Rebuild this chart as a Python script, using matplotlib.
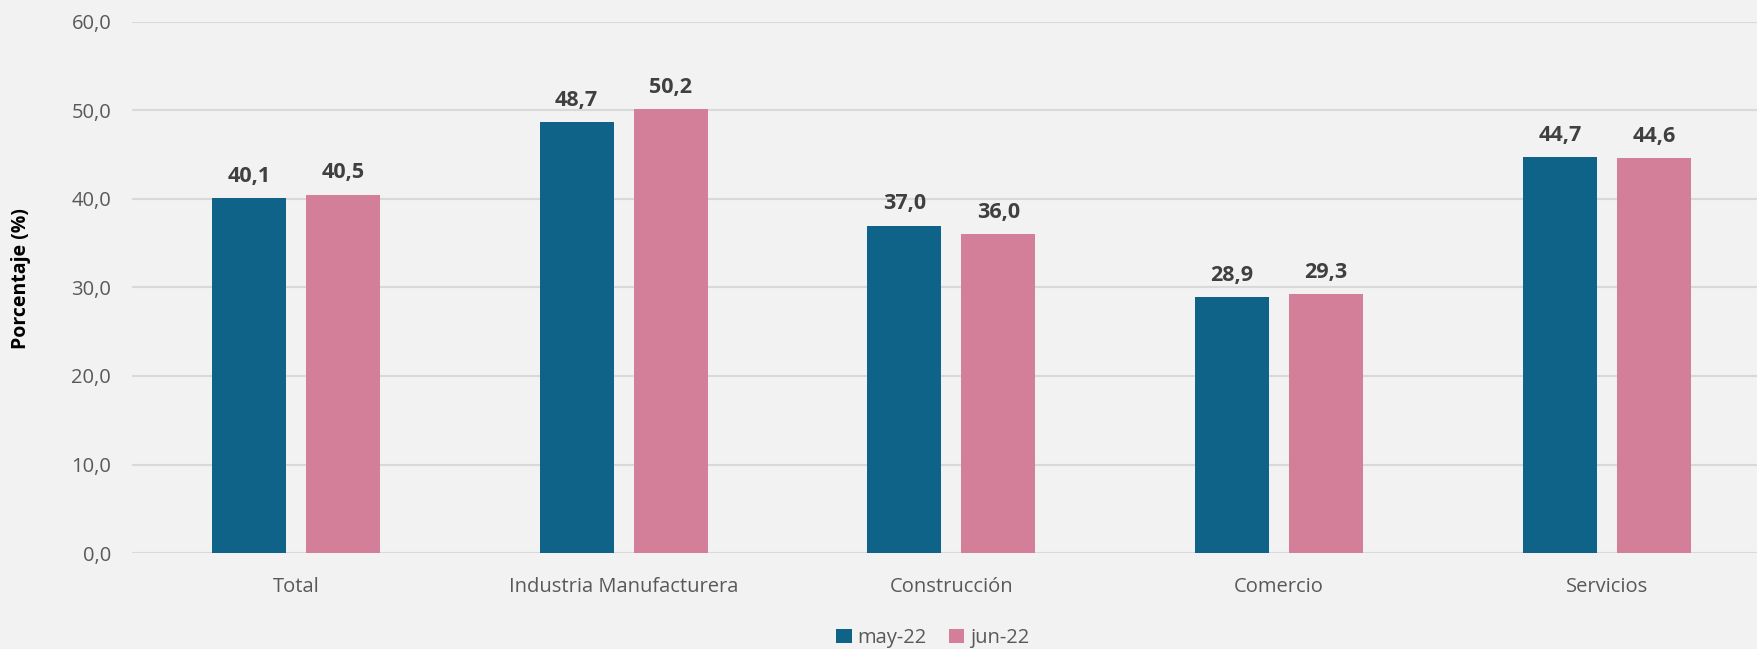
import matplotlib
matplotlib.use("Agg")
import matplotlib.pyplot as plt
import numpy as np

categories = ["Total", "Industria Manufacturera", "Construcción", "Comercio", "Servicios"]
may22 = [40.1, 48.7, 37.0, 28.9, 44.7]
jun22 = [40.5, 50.2, 36.0, 29.3, 44.6]
series_names = ["may-22", "jun-22"]
yticks = [0, 10, 20, 30, 40, 50, 60]

plt.rcParams['font.family'] = ['Open Sans', 'DejaVu Sans']

bg = "#F2F2F2"
c_blue = "#0F6389"
c_pink = "#D37F99"

fig = plt.figure(figsize=(17.57, 6.49), dpi=100, facecolor=bg)
ax = fig.add_axes([132/1757, 1-553/649, 1-132/1757, (553-22)/649], facecolor=bg)

x = np.arange(len(categories))
w = 0.226
off = 0.1434
b1 = ax.bar(x - off, may22, w, color=c_blue, label=series_names[0], zorder=3)
b2 = ax.bar(x + off, jun22, w, color=c_pink, label=series_names[1], zorder=3)

for bars, vals in ((b1, may22), (b2, jun22)):
    for r, v in zip(bars, vals):
        ax.annotate(f"{v:.1f}".replace(".", ","), (r.get_x() + r.get_width()/2, v),
                    xytext=(0, 8), textcoords="offset points", ha="center", va="bottom",
                    fontsize=15.5, fontweight="bold", color="#404040")

ax.set_ylim(0, 60)
ax.set_xlim(-0.5, 4.458)
ax.set_yticks(yticks)
ax.set_yticklabels([f"{t:.1f}".replace(".", ",") for t in yticks], fontsize=14.5, color="#595959")
ax.set_xticks(x)
ax.set_xticklabels(categories, fontsize=14.5, color="#595959")
ax.tick_params(axis="both", length=0)
ax.tick_params(axis="y", pad=15)
ax.tick_params(axis="x", pad=17)
ax.grid(axis="y", color="#D9D9D9", linewidth=1.5, zorder=0)
for s in ax.spines.values():
    s.set_visible(False)

fig.text(21/1757, 1-279/649, "Porcentaje (%)", rotation=90, ha="center", va="center",
         fontsize=14, fontweight="bold", color="black")

leg = fig.legend(handles=[b1, b2], labels=series_names, loc="center", bbox_to_anchor=(0.531, 1-638/649),
                 ncol=2, frameon=False, fontsize=14.5, handlelength=0.75, handleheight=0.75,
                 handletextpad=0.3, columnspacing=1.1, labelcolor="#595959")

fig.savefig("out.png", dpi=100, facecolor=bg)
